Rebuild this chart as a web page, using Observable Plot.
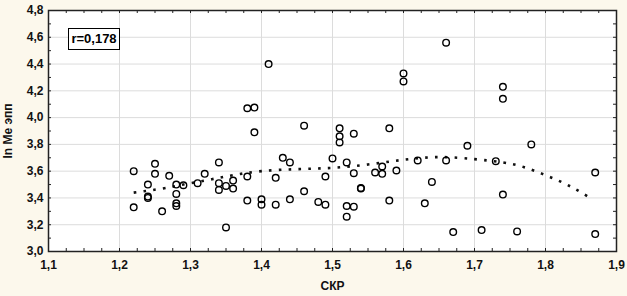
<!DOCTYPE html>
<html><head><meta charset="utf-8">
<script src="https://cdn.jsdelivr.net/npm/d3@7"></script>
<script src="https://cdn.jsdelivr.net/npm/@observablehq/plot@0.6"></script>
<style>
body{margin:0;background:#fcf8ec;}
#wrap{position:relative;width:627px;height:296px;background:#fcf8ec;}
#rbox{position:absolute;left:68px;top:28px;width:50px;height:20px;border:1.5px solid #000;background:#fff;font:bold 13px "Liberation Sans",Arial,sans-serif;line-height:20px;text-align:center;color:#000;}
</style></head><body><div id="wrap"><div id="rbox">r=0,178</div></div>
<script>
// scatter data: СКР (x) and ln Me эпп (y)
const skr = [1.22,1.22,1.24,1.24,1.24,1.25,1.25,1.26,1.27,1.28,1.28,1.28,1.28,1.29,1.31,1.32,1.34,1.34,1.34,1.35,1.35,1.36,1.36,1.38,1.38,1.38,1.39,1.39,1.40,1.40,1.41,1.42,1.42,1.43,1.44,1.44,1.46,1.46,1.48,1.49,1.49,1.50,1.51,1.51,1.51,1.52,1.52,1.52,1.53,1.53,1.53,1.54,1.54,1.56,1.57,1.57,1.58,1.58,1.59,1.60,1.60,1.62,1.63,1.64,1.66,1.66,1.67,1.69,1.71,1.73,1.74,1.74,1.74,1.76,1.78,1.87,1.87];
const lnMe = [3.60,3.33,3.50,3.40,3.41,3.655,3.58,3.30,3.565,3.50,3.43,3.36,3.34,3.495,3.51,3.58,3.665,3.51,3.46,3.49,3.18,3.53,3.47,3.56,3.38,4.07,4.075,3.89,3.39,3.35,4.40,3.55,3.35,3.70,3.665,3.39,3.94,3.45,3.37,3.56,3.35,3.695,3.92,3.86,3.815,3.665,3.34,3.26,3.88,3.585,3.335,3.47,3.475,3.59,3.635,3.58,3.92,3.38,3.605,4.33,4.27,3.68,3.36,3.52,4.56,3.68,3.145,3.79,3.16,3.675,4.23,4.14,3.425,3.15,3.80,3.59,3.13];
// fitted curve
const fitX = [1.22,1.26,1.29,1.33,1.36,1.40,1.45,1.50,1.55,1.60,1.65,1.70,1.74,1.77,1.80,1.83,1.86];
const fitY = [3.44,3.47,3.50,3.54,3.57,3.60,3.615,3.625,3.65,3.685,3.705,3.69,3.665,3.63,3.57,3.50,3.41];
// axis ticks
const xTicks = [1.1,1.2,1.3,1.4,1.5,1.6,1.7,1.8,1.9];
const xTickLabels = ["1,1","1,2","1,3","1,4","1,5","1,6","1,7","1,8","1,9"];
const yTicks = [3.0,3.2,3.4,3.6,3.8,4.0,4.2,4.4,4.6,4.8];
const yTickLabels = ["3,0","3,2","3,4","3,6","3,8","4,0","4,2","4,4","4,6","4,8"];
const xMinor = d3.range(0,33).map(i => 1.1 + i*0.025);
const yMinor = d3.range(0,19).map(i => 3.0 + i*0.1);

const points = skr.map((x,i) => ({x, y: lnMe[i]}));
const fit = fitX.map((x,i) => ({x, y: fitY[i]}));
const xl = new Map(xTicks.map((t,i)=>[t,xTickLabels[i]]));
const yl = new Map(yTicks.map((t,i)=>[t,yTickLabels[i]]));

const W=627,H=296,mL=48,mR=11,mT=10,mB=45;
const innerW=W-mL-mR, innerH=H-mT-mB;
const chart = Plot.plot({
  width: W, height: H, marginLeft: mL, marginRight: mR, marginTop: mT, marginBottom: mB,
  style: {background:"transparent", fontFamily:"'Liberation Sans', Arial, sans-serif", fontWeight:"bold", fontSize:"12px", color:"#111"},
  x: {domain:[1.1,1.9]},
  y: {domain:[3.0,4.8]},
  marks: [
    Plot.frame({fill:"white", stroke:null}),
    Plot.gridX(xTicks, {stroke:"#dcdcdc", strokeOpacity:1}),
    Plot.gridY(yTicks, {stroke:"#dcdcdc", strokeOpacity:1}),
    Plot.tickX(xMinor, {x:d=>d, insetTop: innerH-3, stroke:"#222"}),
    Plot.tickX(xMinor, {x:d=>d, insetBottom: innerH-3, stroke:"#222"}),
    Plot.tickY(yMinor, {y:d=>d, insetRight: innerW-3, stroke:"#222"}),
    Plot.tickY(yMinor, {y:d=>d, insetLeft: innerW-3, stroke:"#222"}),
    Plot.line(fit, {x:"x", y:"y", curve:"natural", stroke:"#111", strokeWidth:2.6, strokeDasharray:"2.6 7.2", strokeLinecap:"butt"}),
    Plot.dot(points, {x:"x", y:"y", r:3.3, stroke:"#000", strokeWidth:1.4, fill:"none"}),
    Plot.axisX(xTicks, {tickSize:0, tickPadding:9, tickFormat:d=>xl.get(d), fontWeight:"bold", fill:"#111", label:"СКР", labelAnchor:"center", labelArrow:"none", labelOffset:38}),
    Plot.axisY(yTicks, {tickSize:0, tickPadding:5, tickFormat:d=>yl.get(d), fontWeight:"bold", fill:"#111", label:"ln Me эпп", labelAnchor:"center", labelArrow:"none", labelOffset:45}),
    Plot.frame({stroke:"#222", strokeWidth:1.5})
  ]
});
document.getElementById("wrap").prepend(chart);
</script>
</body></html>
